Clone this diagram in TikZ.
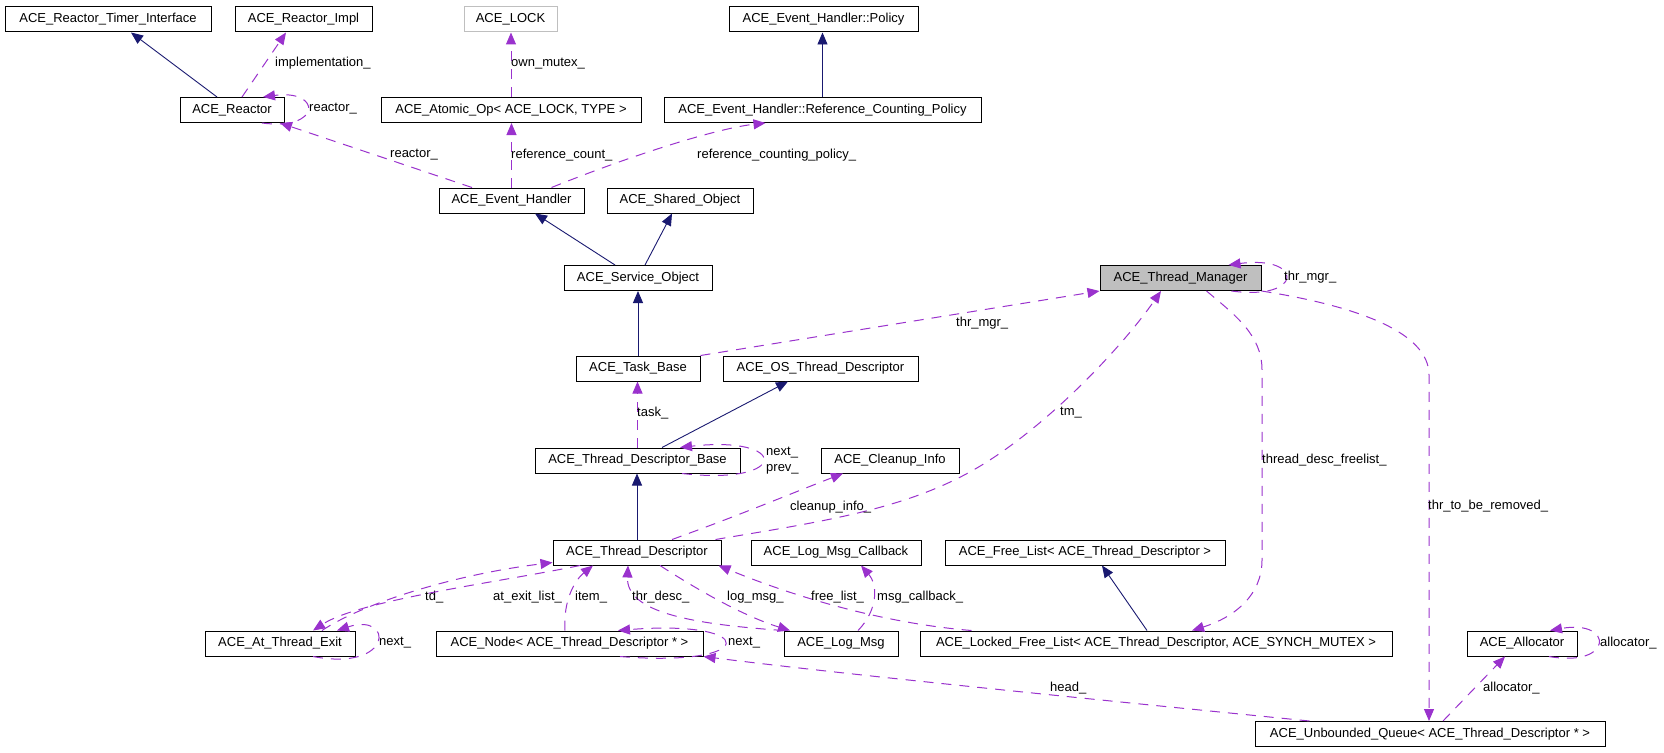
\documentclass[tikz,border=0pt]{standalone}
\usepackage{fontspec}
\setmainfont{Liberation Sans}
\usetikzlibrary{arrows.meta,calc}
\definecolor{inh}{HTML}{191970}
\definecolor{use}{HTML}{9A32CD}
\definecolor{rootfill}{HTML}{BFBFBF}
\definecolor{lockgray}{HTML}{BFBFBF}
\begin{document}
\begin{tikzpicture}[x=1pt,y=-1pt,
  cls/.style={draw=black, line width=1pt, minimum height=25pt, inner sep=0pt, font=\fontsize{13}{15}\selectfont, text=black},
  inhline/.style={draw=inh, line width=0.9pt, -{Triangle[length=12pt,width=10pt]}},
  useline/.style={draw=use, line width=1pt, dash pattern=on 10pt off 8pt, -{Triangle[length=12pt,width=10pt]}},
  lbl/.style={anchor=west, inner sep=0pt, font=\fontsize{13}{15}\selectfont, text=black}]
\useasboundingbox (0,0) rectangle (1664,752);
% nodes
\node[cls, minimum width=206pt] (rti) at (108,19.5) {ACE\_Reactor\_Timer\_Interface};
\node[cls, minimum width=137pt] (rimpl) at (303.5,19.5) {ACE\_Reactor\_Impl};
\node[cls, draw=lockgray, minimum width=93pt] (lock) at (510.5,19.5) {ACE\_LOCK};
\node[cls, minimum width=189pt] (policy) at (823.5,19.5) {ACE\_Event\_Handler::Policy};
\node[cls, minimum width=104pt] (reactor) at (232,110) {ACE\_Reactor};
\node[cls, minimum width=260pt] (atomic) at (511,110) {ACE\_Atomic\_Op< ACE\_LOCK, TYPE >};
\node[cls, minimum width=317pt] (rcp) at (822.5,110) {ACE\_Event\_Handler::Reference\_Counting\_Policy};
\node[cls, minimum width=145pt] (eh) at (511.5,200.5) {ACE\_Event\_Handler};
\node[cls, minimum width=146pt] (so) at (680,200.5) {ACE\_Shared\_Object};
\node[cls, minimum width=148pt] (svc) at (638,278) {ACE\_Service\_Object};
\node[cls, fill=rootfill, minimum width=161pt] (tm) at (1180.5,278) {ACE\_Thread\_Manager};
\node[cls, minimum width=124pt] (task) at (638,368.5) {ACE\_Task\_Base};
\node[cls, minimum width=195pt] (ostd) at (820.5,368.5) {ACE\_OS\_Thread\_Descriptor};
\node[cls, minimum width=205pt] (tdb) at (637.5,460.5) {ACE\_Thread\_Descriptor\_Base};
\node[cls, minimum width=138pt] (cleanup) at (890,460.5) {ACE\_Cleanup\_Info};
\node[cls, minimum width=168pt] (td) at (637,552.5) {ACE\_Thread\_Descriptor};
\node[cls, minimum width=170pt] (lmc) at (836,552.5) {ACE\_Log\_Msg\_Callback};
\node[cls, minimum width=280pt] (freelist) at (1085,552.5) {ACE\_Free\_List< ACE\_Thread\_Descriptor >};
\node[cls, minimum width=150pt] (ate) at (280,643.5) {ACE\_At\_Thread\_Exit};
\node[cls, minimum width=267pt] (node) at (569.5,643.5) {ACE\_Node< ACE\_Thread\_Descriptor * >};
\node[cls, minimum width=114pt] (logmsg) at (841,643.5) {ACE\_Log\_Msg};
\node[cls, minimum width=472pt] (lfl) at (1156,643.5) {ACE\_Locked\_Free\_List< ACE\_Thread\_Descriptor, ACE\_SYNCH\_MUTEX >};
\node[cls, minimum width=110pt] (alloc) at (1522,643.5) {ACE\_Allocator};
\node[cls, minimum width=350pt] (uq) at (1430,734) {ACE\_Unbounded\_Queue< ACE\_Thread\_Descriptor * >};
% inheritance
\draw[inhline] ([xshift=-15pt]reactor.north) -- ([xshift=23pt]rti.south);
\draw[inhline] ([xshift=-23pt]svc.north) -- ([xshift=23.5pt]eh.south);
\draw[inhline] ([xshift=7pt]svc.north) -- ([xshift=-8pt]so.south);
\draw[inhline] (task.north) -- (task.north |- svc.south);
\draw[inhline] ([xshift=24.5pt]tdb.north) -- ([xshift=-32.5pt]ostd.south);
\draw[inhline] (td.north) -- (td.north |- tdb.south);
\draw[inhline] (rcp.north) -- (rcp.north |- policy.south);
\draw[inhline] ([xshift=-9pt]lfl.north) -- ([xshift=17pt]freelist.south);
% usage
\draw[useline] ([xshift=10pt]reactor.north) -- ([xshift=-17.5pt]rimpl.south);
\node[lbl] (limpl) at (275,63) {implementation\_};
\draw[useline] ([xshift=30pt]reactor.south) .. controls (322,131) and (322,89) .. ([xshift=31pt]reactor.north);
\node[lbl] (lreac1) at (309,109) {reactor\_};
\draw[useline] ([xshift=-39.5pt]eh.north) -- ([xshift=48pt]reactor.south);
\node[lbl] (lreac2) at (390,155) {reactor\_};
\draw[useline] (atomic.north) -- (atomic.north |- lock.south);
\node[lbl] (lmutex) at (511,64) {own\_mutex\_};
\draw[useline] (eh.north) -- (eh.north |- atomic.south);
\node[lbl] (lrefc) at (511,155) {reference\_count\_};
\draw[useline] ([xshift=40pt]eh.north) .. controls (640,152) and (720,128) .. ([xshift=-57pt]rcp.south);
\node[lbl] (lrcp) at (697,155) {reference\_counting\_policy\_};
\draw[useline] (task.north east) -- (tm.south west);
\node[lbl] (lthr1) at (956,323) {thr\_mgr\_};
\draw[useline] ([xshift=51pt]tm.south) .. controls (1304,301) and (1304,255) .. ([xshift=48pt]tm.north);
\node[lbl] (lthr2) at (1284,277) {thr\_mgr\_};
\coordinate (tmmid) at (968,473);
\draw[useline] ([xshift=-6pt]td.north east) .. controls (820,522) and (900,510) .. (tmmid) .. controls (1040,434) and (1120,350) .. ([xshift=-19.5pt]tm.south);
\node[lbl] (ltm) at (1060,413) {tm\_};
\coordinate (fl1) at (1262,370);
\coordinate (fl2) at (1262,560);
\draw[useline] ([xshift=26pt]tm.south) .. controls (1235,315) and (1262,335) .. (fl1) -- (fl2) .. controls (1262,595) and (1235,617) .. ([xshift=36pt]lfl.north);
\node[lbl] (lfree) at (1262,460) {thread\_desc\_freelist\_};
\coordinate (rm1) at (1429,375);
\draw[useline] (tm.south east) .. controls (1350,305) and (1429,330) .. (rm1) -- (rm1 |- uq.north);
\node[lbl] (lrm) at (1428,506) {thr\_to\_be\_removed\_};
\draw[useline] (tdb.north) -- (tdb.north |- task.south);
\node[lbl] (ltask) at (637,413) {task\_};
\draw[useline] ([xshift=44.5pt]tdb.south) .. controls (790,486) and (790,435) .. ([xshift=42.5pt]tdb.north);
\node[lbl, align=left, font=\fontsize{13}{15.5}\selectfont] (lnp) at (766,460.5) {next\_\\prev\_};
\draw[useline] ([xshift=35pt]td.north) .. controls (740,515) and (800,490) .. ([xshift=-47pt]cleanup.south);
\node[lbl] (lclean) at (790,507) {cleanup\_info\_};
\draw[useline] ([xshift=42pt]ate.north) .. controls (360,605) and (450,575) .. ([yshift=3pt]td.south west);
\node[lbl] (ltd) at (425,597) {td\_};
\draw[useline] ([xshift=-57pt]td.south) .. controls (500,582) and (360,600) .. ([xshift=33pt]ate.north);
\node[lbl] (lexit) at (493,597) {at\_exit\_list\_};
\draw[useline] ([xshift=33pt]ate.south) .. controls (394,672) and (394,612) .. ([xshift=57pt]ate.north);
\node[lbl] (lnext1) at (379,643) {next\_};
\draw[useline] ([xshift=-4.5pt]node.north) .. controls (563,600) and (575,580) .. ([xshift=-44pt]td.south);
\node[lbl] (litem) at (575,597) {item\_};
\draw[useline] (logmsg.north west) .. controls (690,624) and (626,612) .. ([xshift=-9pt]td.south);
\node[lbl] (lthrd) at (632,597) {thr\_desc\_};
\draw[useline] ([xshift=23pt]td.south) .. controls (690,585) and (740,615) .. ([xshift=-51pt]logmsg.north);
\node[lbl] (llog) at (727,597) {log\_msg\_};
\draw[useline] ([xshift=17pt]logmsg.north) .. controls (878,610) and (878,585) .. ([xshift=25pt]lmc.south);
\node[lbl] (lcb) at (877,597) {msg\_callback\_};
\draw[useline] ([xshift=52pt]lfl.north west) .. controls (880,623) and (790,595) .. ([xshift=-3pt]td.south east);
\node[lbl] (lfl2) at (811,597) {free\_list\_};
\draw[useline] ([xshift=50.5pt]node.south) .. controls (760,668) and (760,619) .. ([xshift=48.5pt]node.north);
\node[lbl] (lnext2) at (728,643) {next\_};
\draw[useline] ([xshift=55pt]uq.north west) .. controls (1100,700) and (850,675) .. (node.south east);
\node[lbl] (lhead) at (1050,688) {head\_};
\draw[useline] ([xshift=13pt]uq.north) -- ([xshift=-17pt]alloc.south);
\node[lbl] (lal1) at (1483,688) {allocator\_};
\draw[useline] ([xshift=27pt]alloc.south) .. controls (1614,668) and (1614,619) .. ([xshift=28pt]alloc.north);
\node[lbl] (lal2) at (1600,643) {allocator\_};
\end{tikzpicture}
\end{document}
